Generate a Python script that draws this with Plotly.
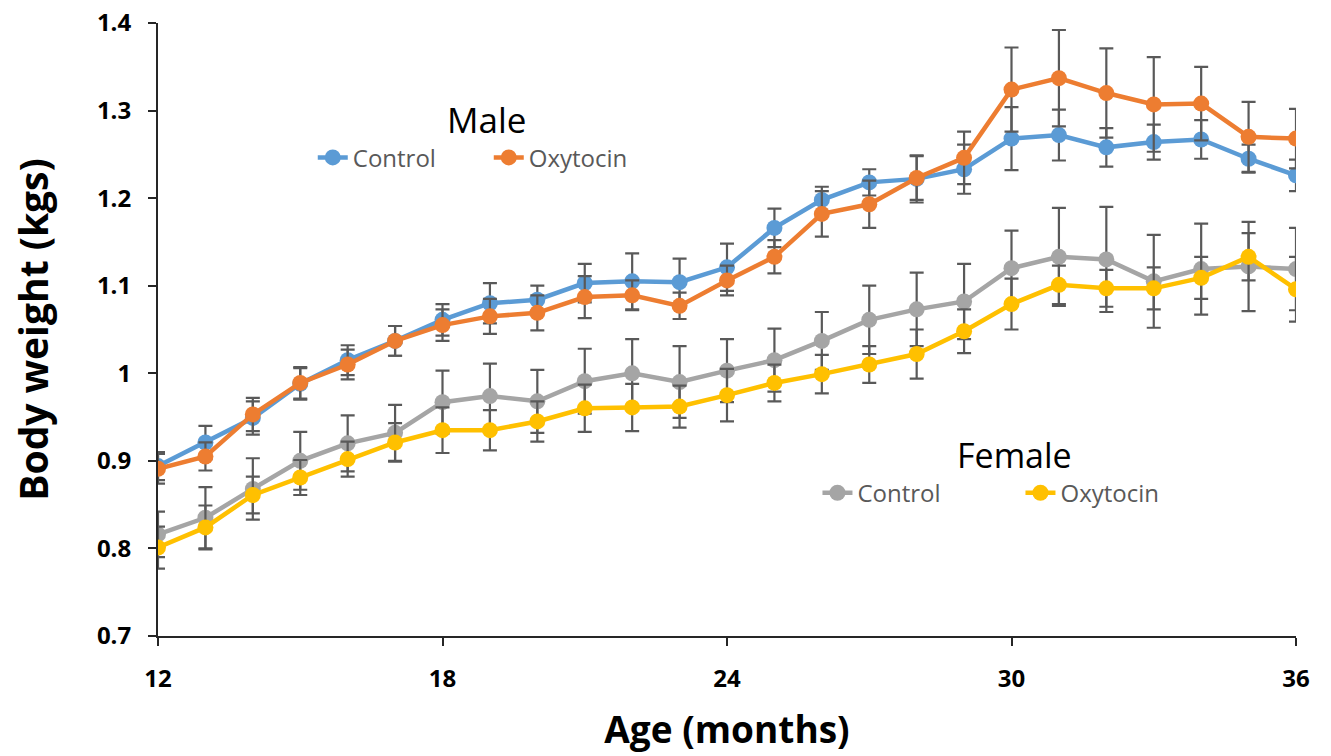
import plotly.graph_objects as go

age = list(range(12, 37))

male_control = [0.894, 0.921, 0.949, 0.988, 1.015, 1.037, 1.061, 1.080, 1.084, 1.103, 1.105, 1.104, 1.121,
                1.166, 1.198, 1.218, 1.222, 1.233, 1.268, 1.272, 1.258, 1.264, 1.267, 1.245, 1.226]
male_control_err = [0.016, 0.019, 0.019, 0.018, 0.017, 0.017, 0.018, 0.023, 0.016, 0.022, 0.032, 0.027, 0.027,
                    0.022, 0.015, 0.015, 0.027, 0.028, 0.036, 0.029, 0.022, 0.020, 0.022, 0.016, 0.018]

male_oxy = [0.891, 0.905, 0.953, 0.989, 1.010, 1.037, 1.055, 1.065, 1.069, 1.087, 1.089, 1.077, 1.106,
            1.133, 1.182, 1.193, 1.223, 1.246, 1.324, 1.337, 1.320, 1.307, 1.308, 1.270, 1.268]
male_oxy_err = [0.017, 0.016, 0.019, 0.018, 0.017, 0.017, 0.018, 0.020, 0.020, 0.024, 0.017, 0.015, 0.017,
                0.019, 0.026, 0.027, 0.025, 0.030, 0.048, 0.055, 0.051, 0.054, 0.042, 0.040, 0.034]

female_control = [0.816, 0.835, 0.868, 0.900, 0.920, 0.932, 0.967, 0.974, 0.968, 0.991, 1.000, 0.990, 1.003,
                  1.015, 1.037, 1.061, 1.073, 1.082, 1.120, 1.133, 1.130, 1.105, 1.119, 1.122, 1.119]
female_control_err = [0.026, 0.035, 0.035, 0.033, 0.032, 0.032, 0.036, 0.037, 0.036, 0.037, 0.039, 0.041, 0.036,
                      0.036, 0.033, 0.039, 0.042, 0.043, 0.043, 0.056, 0.060, 0.053, 0.052, 0.051, 0.047]

female_oxy = [0.801, 0.824, 0.861, 0.881, 0.902, 0.921, 0.935, 0.935, 0.945, 0.960, 0.961, 0.962, 0.975,
              0.989, 0.999, 1.010, 1.022, 1.048, 1.079, 1.101, 1.097, 1.097, 1.109, 1.133, 1.096]
female_oxy_err = [0.024, 0.025, 0.021, 0.020, 0.020, 0.022, 0.026, 0.023, 0.023, 0.027, 0.027, 0.024, 0.030,
                  0.021, 0.022, 0.021, 0.028, 0.025, 0.029, 0.022, 0.021, 0.024, 0.024, 0.027, 0.037]

x_ticks = [12, 18, 24, 30, 36]
y_ticks = [0.7, 0.8, 0.9, 1.0, 1.1, 1.2, 1.3, 1.4]
y_tick_text = ["0.7", "0.8", "0.9", "1", "1.1", "1.2", "1.3", "1.4"]

series = [
    ("Control", male_control, male_control_err, "#5B9BD5", "legend"),
    ("Oxytocin", male_oxy, male_oxy_err, "#ED7D31", "legend"),
    ("Control", female_control, female_control_err, "#A5A5A5", "legend2"),
    ("Oxytocin", female_oxy, female_oxy_err, "#FFC000", "legend2"),
]

fig = go.Figure()
for name, vals, err, color, leg in series:
    fig.add_trace(go.Scatter(
        x=age, y=vals, name=name, mode="lines+markers",
        line=dict(color=color, width=4.5),
        marker=dict(color=color, size=16),
        error_y=dict(type="data", array=err, visible=True, color="#595959", thickness=2.2, width=7),
        legend=leg,
    ))

font_main = "Open Sans, Liberation Sans, sans-serif"
leg_common = dict(
    orientation="h", bgcolor="rgba(0,0,0,0)",
    font=dict(family=font_main, size=24, color="#595959"),
    xanchor="left", yanchor="middle",
    entrywidthmode="pixels", tracegroupgap=0,
)

fig.update_layout(
    width=1331, height=756,
    paper_bgcolor="white", plot_bgcolor="white",
    margin=dict(l=158, r=35, t=23, b=120, autoexpand=False),
    showlegend=True,
    legend=dict(**leg_common, x=0.136, y=0.78, entrywidth=131),
    legend2=dict(**leg_common, x=0.5795, y=0.233, entrywidth=158),
    annotations=[
        dict(text="Male", xref="paper", yref="paper", x=0.289, y=0.842, showarrow=False,
             font=dict(family=font_main, size=35, color="black"), xanchor="center", yanchor="middle"),
        dict(text="Female", xref="paper", yref="paper", x=0.753, y=0.295, showarrow=False,
             font=dict(family=font_main, size=34, color="black"), xanchor="center", yanchor="middle"),
    ],
    xaxis=dict(
        range=[12, 36], tickvals=x_ticks, ticktext=[str(t) for t in x_ticks],
        showgrid=False, zeroline=False, showline=True, linecolor="#262626", linewidth=2,
        ticks="outside", ticklen=8, tickwidth=2, tickcolor="#262626", ticklabelstandoff=12,
        ticklabeloverflow="allow",
        tickfont=dict(family=font_main, size=24, color="black", weight="bold"),
        title=dict(text="<b>Age (months)</b>", font=dict(family=font_main, size=37, color="black"), standoff=24),
        automargin=False,
    ),
    yaxis=dict(
        range=[0.7, 1.4], tickvals=y_ticks, ticktext=y_tick_text,
        showgrid=False, zeroline=False, showline=True, linecolor="#262626", linewidth=2,
        ticks="outside", ticklen=8, tickwidth=2, tickcolor="#262626", ticklabelstandoff=12,
        ticklabeloverflow="allow",
        tickfont=dict(family=font_main, size=24, color="black", weight="bold"),
        title=dict(text="<b>Body weight (kgs)</b>", font=dict(family=font_main, size=39, color="black"), standoff=36),
        automargin=False,
    ),
)

fig.write_html("out.html", config={"displayModeBar": False},
               post_script="document.body.style.margin='0';")
